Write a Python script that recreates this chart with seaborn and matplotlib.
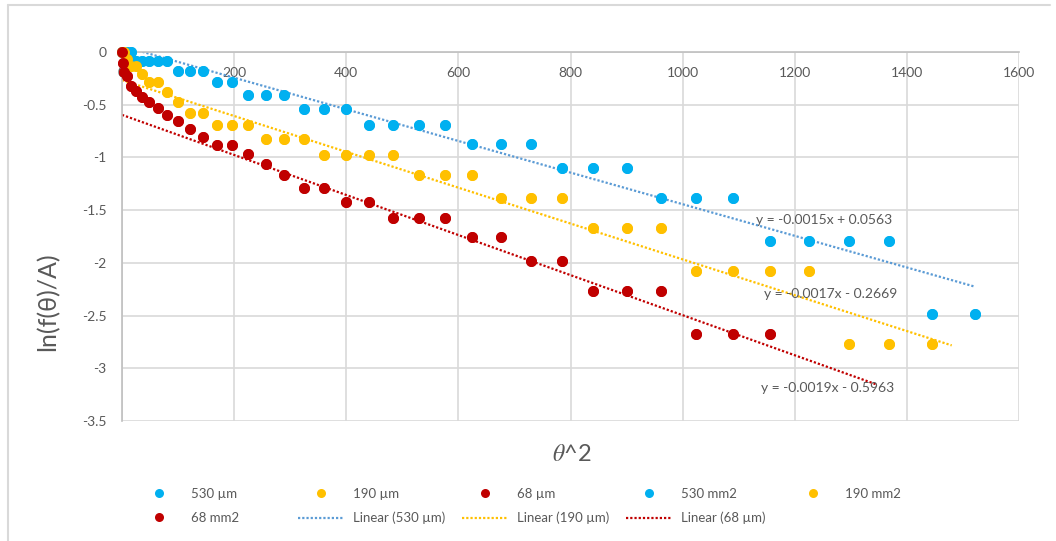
import matplotlib
matplotlib.use("Agg")
import matplotlib.pyplot as plt
from matplotlib.lines import Line2D
import pandas as pd
import seaborn as sns

# theta^2 values (x axis)
theta_sq_530 = [0, 1, 4, 9, 16, 25, 36, 49, 64, 81, 100, 121, 144, 169, 196, 225,
                256, 289, 324, 361, 400, 441, 484, 529, 576, 625, 676, 729, 784,
                841, 900, 961, 1024, 1089, 1156, 1225, 1296, 1369, 1444, 1521]
theta_sq_190 = theta_sq_530[:39]
theta_sq_68 = theta_sq_530[:35]

# ln(f(theta)/A) values (y axis)
ln_530 = [0, 0, 0, 0, 0,
          -0.087, -0.087, -0.087, -0.087, -0.087,
          -0.182, -0.182, -0.182,
          -0.288, -0.288,
          -0.405, -0.405, -0.405,
          -0.539, -0.539, -0.539,
          -0.693, -0.693, -0.693, -0.693,
          -0.875, -0.875, -0.875,
          -1.099, -1.099, -1.099,
          -1.386, -1.386, -1.386,
          -1.792, -1.792, -1.792, -1.792,
          -2.485, -2.485]
ln_190 = [0, 0, 0, -0.065, -0.134, -0.134, -0.208, -0.288, -0.288, -0.375,
          -0.470, -0.575, -0.575,
          -0.693, -0.693, -0.693,
          -0.827, -0.827, -0.827,
          -0.981, -0.981, -0.981, -0.981,
          -1.163, -1.163, -1.163,
          -1.386, -1.386, -1.386,
          -1.674, -1.674, -1.674,
          -2.079, -2.079, -2.079, -2.079,
          -2.773, -2.773, -2.773]
ln_68 = [0, -0.109, -0.189, -0.232, -0.323, -0.372, -0.423, -0.477, -0.534,
         -0.595, -0.659, -0.728, -0.802, -0.882, -0.882, -0.969, -1.065, -1.170,
         -1.288, -1.288, -1.421, -1.421, -1.576, -1.576, -1.576, -1.758, -1.758,
         -1.981, -1.981, -2.269, -2.269, -2.269, -2.674, -2.674, -2.674]

series_names = ["530 µm", "190 µm", "68 µm"]
area_names = ["530 mm2", "190 mm2", "68 mm2"]
point_colors = ["#00B0F0", "#FFC000", "#C00000"]
trend_colors = ["#5B9BD5", "#FFC000", "#C00000"]

# linear trendlines: y = slope * x + intercept
trend_slopes = [-0.0015, -0.0017, -0.0019]
trend_intercepts = [0.0563, -0.2669, -0.5963]
trend_x_end = [1521, 1480, 1345]
eq_x = [1252, 1264, 1259]
eq_y = [-1.593, -2.297, -3.19]

x_ticks = [0, 200, 400, 600, 800, 1000, 1200, 1400, 1600]
y_ticks = [0, -0.5, -1, -1.5, -2, -2.5, -3, -3.5]

TEXT = "#595959"
GRID = "#D9D9D9"
AXIS = "#BFBFBF"

sns.set_theme(style="white")
plt.rcParams["font.family"] = ["Lato", "DejaVu Sans"]
plt.rcParams["mathtext.fontset"] = "stix"

W, H = 1056, 541
fig = plt.figure(figsize=(W / 100, H / 100), dpi=100)
ax = fig.add_axes([122 / W, 1 - 421 / H, 897 / W, 369 / H])

xs = [theta_sq_530, theta_sq_190, theta_sq_68]
ys = [ln_530, ln_190, ln_68]

# trendlines underneath the points
for i in range(3):
    df_t = pd.DataFrame({
        "x": [0, trend_x_end[i]],
        "y": [trend_intercepts[i], trend_slopes[i] * trend_x_end[i] + trend_intercepts[i]],
    })
    sns.lineplot(data=df_t, x="x", y="y", ax=ax, color=trend_colors[i],
                 linewidth=1.6, linestyle=(0, (1, 0.9)), zorder=2)

# measured points, then the mm2 series on top at the same coordinates
for names in (series_names, area_names):
    for i in range(3):
        df = pd.DataFrame({"x": xs[i], "y": ys[i]})
        sns.scatterplot(data=df, x="x", y="y", ax=ax, color=point_colors[i],
                        s=62, linewidth=0, zorder=3, clip_on=False)

for i in range(3):
    sign = "+" if trend_intercepts[i] >= 0 else "-"
    eq = f"y = {trend_slopes[i]:.4f}x {sign} {abs(trend_intercepts[i]):.4f}"
    ax.text(eq_x[i], eq_y[i], eq, ha="center", va="center", fontsize=10,
            color=TEXT, zorder=4)

ax.set_xlim(0, 1600)
ax.set_ylim(-3.5, 0)
ax.set_xticks(x_ticks)
ax.set_yticks(y_ticks)
ax.set_xticklabels([str(v) for v in x_ticks])
ax.set_yticklabels([f"{v:g}" for v in y_ticks])
ax.grid(True, color=GRID, linewidth=1.2)
ax.set_axisbelow(True)

for side in ("right", "bottom"):
    ax.spines[side].set_visible(False)
ax.spines["top"].set_color(AXIS)
ax.spines["left"].set_color(AXIS)
ax.spines["top"].set_linewidth(1.2)
ax.spines["left"].set_linewidth(1.2)

ax.tick_params(axis="x", top=False, bottom=False, labeltop=True, labelbottom=False,
               length=0, pad=-19.5, labelsize=10, labelcolor=TEXT)
ax.tick_params(axis="y", left=False, length=0, pad=11, labelsize=10, labelcolor=TEXT)

ax.set_xlabel(r"$\theta$^2", fontsize=17, color=TEXT)
ax.xaxis.set_label_position("bottom")
ax.xaxis.label.set_va("center")
ax.xaxis.set_label_coords(0.5017, -0.092)
ax.set_ylabel("ln(f(θ)/A)", fontsize=18, color=TEXT)
ax.yaxis.label.set_va("center")
ax.yaxis.set_label_coords(-0.0825, 0.3225)


def dot(c):
    return Line2D([], [], marker="o", linestyle="none", markersize=6.5,
                  markerfacecolor=c, markeredgewidth=0)


def dotted(c):
    return Line2D([], [], color=c, linewidth=1.6, linestyle=(0, (1, 0.9)))


legend_columns = [
    [(dot(point_colors[0]), series_names[0]), (dot(point_colors[2]), area_names[2])],
    [(dot(point_colors[1]), series_names[1]), (dotted(trend_colors[0]), "Linear (530 µm)")],
    [(dot(point_colors[2]), series_names[2]), (dotted(trend_colors[1]), "Linear (190 µm)")],
    [(dot(point_colors[0]), area_names[0]), (dotted(trend_colors[2]), "Linear (68 µm)")],
    [(dot(point_colors[1]), area_names[1])],
]
legend_left_px = [136, 298, 462, 626, 790]
for left, entries in zip(legend_left_px, legend_columns):
    leg = fig.legend([e[0] for e in entries], [e[1] for e in entries],
                     loc="upper left", bbox_to_anchor=(left / W, 1 - 488 / H),
                     frameon=False, borderpad=0, borderaxespad=0,
                     handlelength=3.5, handletextpad=0.7, labelspacing=0.9,
                     fontsize=9.5, labelcolor=TEXT)

# chart frame edges
fig.add_artist(Line2D([8 / W, 1050 / W], [1 - 5 / H, 1 - 5 / H], color=GRID,
                      linewidth=1.5, transform=fig.transFigure))
fig.add_artist(Line2D([8 / W, 8 / W], [0, 1 - 5 / H], color=GRID,
                      linewidth=1.5, transform=fig.transFigure))

fig.savefig("out.png", dpi=100)
